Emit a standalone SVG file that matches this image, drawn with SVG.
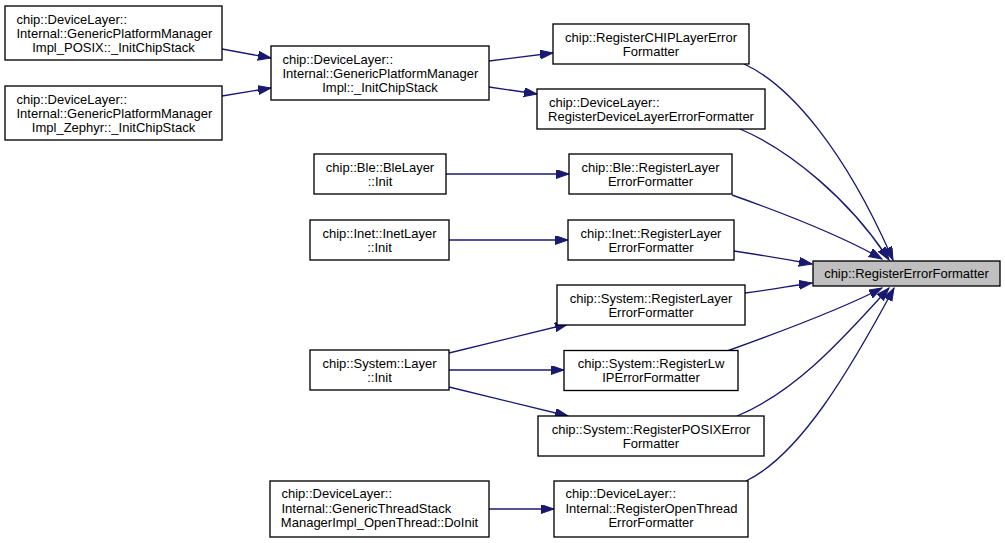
<svg xmlns="http://www.w3.org/2000/svg" width="1005" height="543" viewBox="0 0 1005 543">
<style>
.node rect{fill:#ffffff;stroke:#000000;stroke-width:1.33}
.main rect{fill:#bfbfbf}
text{font-family:"Liberation Sans",Arial,Helvetica,sans-serif;font-size:13px;fill:#000000}
.c{text-anchor:middle}
.edge path{fill:none;stroke:#191970;stroke-width:1.33;marker-end:url(#ah)}
</style>
<defs>
<marker id="ah" markerUnits="userSpaceOnUse" markerWidth="14" markerHeight="10" refX="13" refY="4.5" orient="auto"><path d="M0,0 L13,4.5 L0,9 z" fill="#191970" stroke="#191970" stroke-width="1"/></marker>
</defs>
<rect width="1005" height="543" fill="#ffffff"/>
<g id="connectors" class="edge">
<path d="M222,49 L271,58"/>
<path d="M222,96 L271,88"/>
<path d="M489,61 L553,53"/>
<path d="M489,87 L537,94"/>
<path d="M446,174 L569,174"/>
<path d="M449,240 L568,240"/>
<path d="M449,353 L568,324"/>
<path d="M449,370 L564,370"/>
<path d="M449,387 L568,416"/>
<path d="M489,509 L554,509"/>
<path d="M744,64 C790,85 845,150 893,260"/>
<path d="M740,129 C790,150 850,200 889,260"/>
<path d="M732,195 C780,212 840,235 882,259"/>
<path d="M734,251 C760,255 790,260 812,264"/>
<path d="M745,293 C770,290 790,286 812,283"/>
<path d="M727,351 C780,332 840,310 882,288"/>
<path d="M737,416 C800,390 850,330 889,288"/>
<path d="M746,481 C800,455 850,370 894,288"/>
</g>
<g id="n_posix" class="node"><rect x="5" y="6" width="217" height="54"/><text x="16.5" y="23.5">chip::DeviceLayer::</text><text x="16.5" y="37.5">Internal::GenericPlatformManager</text><text class="c" x="113.5" y="51.5">Impl_POSIX::_InitChipStack</text></g>
<g id="n_zephyr" class="node"><rect x="5" y="86" width="217" height="54"/><text x="16.5" y="103.5">chip::DeviceLayer::</text><text x="16.5" y="117.5">Internal::GenericPlatformManager</text><text class="c" x="113.5" y="131.5">Impl_Zephyr::_InitChipStack</text></g>
<g id="n_gpmimpl" class="node"><rect x="271" y="46" width="218" height="54"/><text x="282.5" y="63.5">chip::DeviceLayer::</text><text x="282.5" y="77.5">Internal::GenericPlatformManager</text><text class="c" x="380" y="91.5">Impl::_InitChipStack</text></g>
<g id="n_chiplayer" class="node"><rect x="553" y="24" width="196" height="40"/><text class="c" x="651" y="41.5">chip::RegisterCHIPLayerError</text><text class="c" x="651" y="55.5">Formatter</text></g>
<g id="n_devicelayer" class="node"><rect x="537" y="89" width="228" height="40"/><text x="549" y="106.5">chip::DeviceLayer::</text><text class="c" x="651" y="120.5">RegisterDeviceLayerErrorFormatter</text></g>
<g id="n_blelayer" class="node"><rect x="314" y="154" width="132" height="40"/><text class="c" x="380" y="171.5">chip::Ble::BleLayer</text><text class="c" x="380" y="185.5">::Init</text></g>
<g id="n_inetlayer" class="node"><rect x="310" y="220" width="139" height="40"/><text class="c" x="379.5" y="237.5">chip::Inet::InetLayer</text><text class="c" x="379.5" y="251.5">::Init</text></g>
<g id="n_bleerr" class="node"><rect x="569" y="154" width="163" height="40"/><text class="c" x="650.5" y="171.5">chip::Ble::RegisterLayer</text><text class="c" x="650.5" y="185.5">ErrorFormatter</text></g>
<g id="n_ineterr" class="node"><rect x="568" y="220" width="166" height="40"/><text class="c" x="651" y="237.5">chip::Inet::RegisterLayer</text><text class="c" x="651" y="251.5">ErrorFormatter</text></g>
<g id="n_main" class="node main"><rect x="813" y="261" width="187" height="25"/><text class="c" x="906.5" y="278">chip::RegisterErrorFormatter</text></g>
<g id="n_syslayererr" class="node"><rect x="557" y="285" width="188" height="40"/><text class="c" x="651" y="302.5">chip::System::RegisterLayer</text><text class="c" x="651" y="316.5">ErrorFormatter</text></g>
<g id="n_lwip" class="node"><rect x="564" y="350.5" width="174" height="40"/><text class="c" x="651" y="368">chip::System::RegisterLw</text><text class="c" x="651" y="382">IPErrorFormatter</text></g>
<g id="n_posixerr" class="node"><rect x="538" y="416" width="226" height="40"/><text class="c" x="651" y="433.5">chip::System::RegisterPOSIXError</text><text class="c" x="651" y="447.5">Formatter</text></g>
<g id="n_openthread" class="node"><rect x="554" y="481" width="194" height="56"/><text x="565.5" y="498">chip::DeviceLayer::</text><text x="565.5" y="512.5">Internal::RegisterOpenThread</text><text class="c" x="651" y="526.5">ErrorFormatter</text></g>
<g id="n_syslayer" class="node"><rect x="310" y="350" width="139" height="40"/><text class="c" x="379.5" y="367.5">chip::System::Layer</text><text class="c" x="379.5" y="381.5">::Init</text></g>
<g id="n_threadstack" class="node"><rect x="270" y="481" width="219" height="56"/><text x="281.5" y="498">chip::DeviceLayer::</text><text x="281.5" y="512.5">Internal::GenericThreadStack</text><text class="c" x="379.5" y="526.5">ManagerImpl_OpenThread::DoInit</text></g>
</svg>
